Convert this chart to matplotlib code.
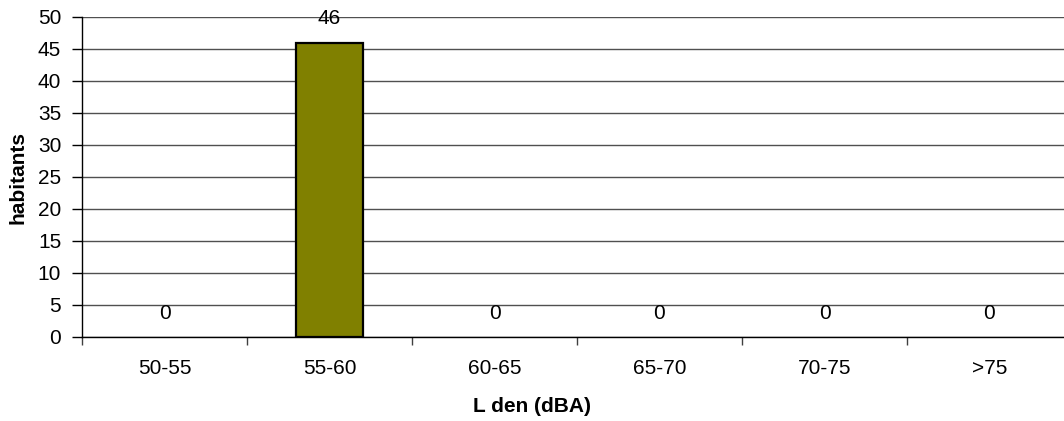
import numpy as np
import matplotlib
matplotlib.use("Agg")
import matplotlib.pyplot as plt
from matplotlib.ticker import FixedLocator

# Data
categories = ["50-55", "55-60", "60-65", "65-70", "70-75", ">75"]
habitants = [0, 46, 0, 0, 0, 0]
y_ticks = [0, 5, 10, 15, 20, 25, 30, 35, 40, 45, 50]

plt.rcParams['font.family'] = ['Liberation Sans', 'DejaVu Sans']
fs = 15

fig = plt.figure(figsize=(10.64, 4.21), dpi=100)
# plot area runs a little past the right edge, like the original
ax = fig.add_axes([82 / 1064, 1 - 337 / 421, 990 / 1064, 320 / 421])

x = np.arange(len(categories))
bars = ax.bar(x, habitants, width=0.405, color='#808000', edgecolor='black',
              linewidth=1.6, zorder=3)
for b, v in zip(bars, habitants):
    if v == 0:
        b.set_linewidth(0)

# value labels
for xi, v in zip(x, habitants):
    ax.annotate(str(v), (xi, v), xytext=(0, 17), textcoords='offset points',
                ha='center', va='center', fontsize=fs, zorder=4)

ax.set_xlim(-0.5, len(categories) - 0.5)
ax.set_ylim(0, 50)
ax.set_yticks(y_ticks)
ax.yaxis.grid(True, color='#505050', linewidth=1.0, zorder=0)
ax.set_axisbelow(True)

ax.set_xticks(x)
ax.set_xticklabels(categories)
ax.xaxis.set_minor_locator(FixedLocator(np.arange(len(categories) + 1) - 0.5))
ax.tick_params(axis='x', which='major', length=0, pad=16, labelsize=fs)
ax.tick_params(axis='x', which='minor', length=6, width=1, color='#404040')
ax.tick_params(axis='y', length=7, width=1, pad=8, labelsize=fs)

for s in ['top', 'right']:
    ax.spines[s].set_visible(False)
ax.spines['left'].set_linewidth(1.0)
ax.spines['bottom'].set_linewidth(1.0)

ax.set_xlabel("L den (dBA)", fontsize=fs, fontweight='bold')
ax.xaxis.set_label_coords((532 - 82) / 990, (337 - 407) / 320)
ax.xaxis.label.set_va('center')
ax.set_ylabel("habitants", fontsize=fs, fontweight='bold')
ax.yaxis.set_label_coords((18 - 82) / 990, 0.5)
ax.yaxis.label.set_va('center')

fig.savefig("out.png", dpi=100)
